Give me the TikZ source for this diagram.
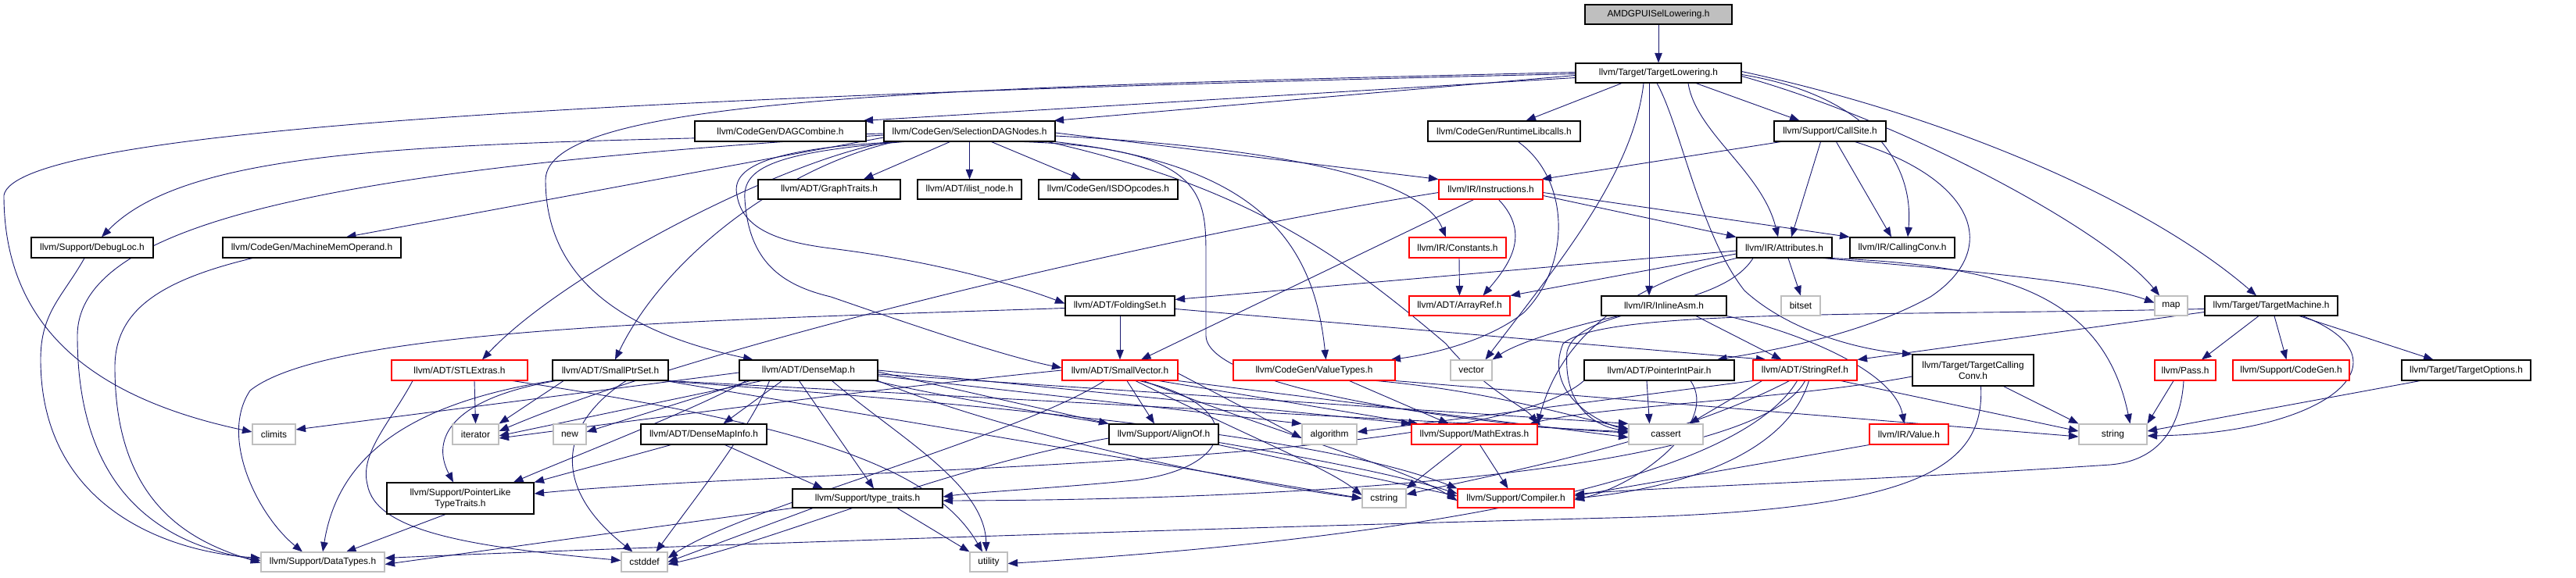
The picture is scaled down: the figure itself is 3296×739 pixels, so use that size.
\documentclass[tikz,border=0pt]{standalone}
\usepackage{fontspec}
\setmainfont{Liberation Sans}
\usetikzlibrary{arrows.meta}
\definecolor{edgec}{HTML}{191970}
\definecolor{grayb}{HTML}{BFBFBF}
\pgfdeclarelayer{bg}
\pgfsetlayers{bg,main}
\begin{document}
\begin{tikzpicture}[x=1pt,y=-1pt,
  box/.style={rectangle,inner sep=0pt,font=\fontsize{11.9}{14}\selectfont,line width=1.1pt,fill=white,align=center,minimum height=26pt},
  nb/.style={box,draw=black},
  ng/.style={box,draw=grayb},
  nr/.style={box,draw=red},
  nroot/.style={box,draw=black,fill=grayb},
  mw/.style={minimum width=#1pt},
  mh/.style={minimum height=#1pt},
  e/.style={draw=edgec,line width=0.9pt,-{Triangle[length=12.5pt,width=9.5pt]}}]
\useasboundingbox (0,0) rectangle (3296,739);
% ---------- nodes ----------
\node[nroot,mw=188,mh=25] (root) at (2122,18.5) {AMDGPUISelLowering.h};
\node[nb,mw=212,mh=25] (tl) at (2122,93.5) {llvm/Target/TargetLowering.h};
\node[nb,mw=219] (dagc) at (998.5,168) {llvm/CodeGen/DAGCombine.h};
\node[nb,mw=219] (sdn) at (1240.5,168) {llvm/CodeGen/SelectionDAGNodes.h};
\node[nb,mw=195] (rtl) at (1924.5,168) {llvm/CodeGen/RuntimeLibcalls.h};
\node[nb,mw=143] (cs) at (2341.5,168) {llvm/Support/CallSite.h};
\node[nb,mw=156] (dbg) at (118,317) {llvm/Support/DebugLoc.h};
\node[nb,mw=228] (mmo) at (399,317) {llvm/CodeGen/MachineMemOperand.h};
\node[nb,mw=182,mh=25] (gt) at (1061,242.5) {llvm/ADT/GraphTraits.h};
\node[nb,mw=133,mh=25] (ilist) at (1240.5,242.5) {llvm/ADT/ilist\_node.h};
\node[nb,mw=178,mh=25] (isd) at (1418,242.5) {llvm/CodeGen/ISDOpcodes.h};
\node[nr,mw=133,mh=25] (inst) at (1907.5,242.5) {llvm/IR/Instructions.h};
\node[nr,mw=124] (const) at (1865,317) {llvm/IR/Constants.h};
\node[nb,mw=122] (attr) at (2283,317) {llvm/IR/Attributes.h};
\node[nb,mw=134] (cc) at (2434,317) {llvm/IR/CallingConv.h};
\node[nr,mw=129,mh=25] (aref) at (1867.5,391.5) {llvm/ADT/ArrayRef.h};
\node[nb,mw=140,mh=25] (fset) at (1433,391.5) {llvm/ADT/FoldingSet.h};
\node[nb,mw=160,mh=25] (iasm) at (2129,391.5) {llvm/IR/InlineAsm.h};
\node[ng,mw=50,mh=25] (bitset) at (2304,391.5) {bitset};
\node[ng,mw=42,mh=25] (map) at (2778,391.5) {map};
\node[nb,mw=170,mh=25] (tm) at (2906,391.5) {llvm/Target/TargetMachine.h};
\node[ng,mw=53] (vector) at (1882.5,474) {vector};
\node[nr,mw=174] (stl) at (588,474) {llvm/ADT/STLExtras.h};
\node[nb,mw=148] (sps) at (781,474) {llvm/ADT/SmallPtrSet.h};
\node[nb,mw=177] (dmap) at (1034.5,474) {llvm/ADT/DenseMap.h};
\node[nr,mw=148] (svec) at (1433,474) {llvm/ADT/SmallVector.h};
\node[nr,mw=207] (vt) at (1681.5,474) {llvm/CodeGen/ValueTypes.h};
\node[nb,mw=192] (pip) at (2123,474) {llvm/ADT/PointerIntPair.h};
\node[nr,mw=133] (sref) at (2309.5,474) {llvm/ADT/StringRef.h};
\node[nb,mw=155,mh=40] (tcc) at (2524.5,474) {llvm/Target/TargetCalling\\Conv.h};
\node[nr,mw=78] (pass) at (2796,474) {llvm/Pass.h};
\node[nr,mw=149] (cg) at (2931.5,474) {llvm/Support/CodeGen.h};
\node[nb,mw=165] (topt) at (3155.5,474) {llvm/Target/TargetOptions.h};
\node[ng,mw=55] (climits) at (350.5,556) {climits};
\node[ng,mw=59] (iter) at (608.5,556) {iterator};
\node[ng,mw=42] (new) at (729,556) {new};
\node[nb,mw=161] (dmi) at (900.5,556) {llvm/ADT/DenseMapInfo.h};
\node[nb,mw=140] (align) at (1489,556) {llvm/Support/AlignOf.h};
\node[ng,mw=70] (algo) at (1701,556) {algorithm};
\node[nr,mw=161] (mext) at (1886.5,556) {llvm/Support/MathExtras.h};
\node[ng,mw=95] (cassert) at (2131.5,556) {cassert};
\node[nr,mw=101] (value) at (2442.5,556) {llvm/IR/Value.h};
\node[ng,mw=87] (string) at (2703.5,556) {string};
\node[nb,mw=188,mh=40] (pltt) at (589,638) {llvm/Support/PointerLike\\TypeTraits.h};
\node[nb,mw=192,mh=24] (tt) at (1110,638) {llvm/Support/type\_traits.h};
\node[ng,mw=56,mh=24] (cstring) at (1771,638) {cstring};
\node[nr,mw=149,mh=24] (comp) at (1939.5,638) {llvm/Support/Compiler.h};
\node[ng,mw=158,mh=25] (dt) at (413,719.5) {llvm/Support/DataTypes.h};
\node[ng,mw=59,mh=25] (cstddef) at (824.5,719.5) {cstddef};
\node[ng,mw=48,mh=25] (utility) at (1265,719.5) {utility};
% ---------- edges ----------
\begin{pgfonlayer}{bg}
\draw[e] (root) -- (tl);
\draw[e] ([yshift=-6]tl.west) -- ([xshift=-4]dagc.north east);
\draw[e] ([yshift=-3]tl.west) -- ([xshift=-2]sdn.north east);
\draw[e] ([yshift=-1]tl.west) .. controls (700,125) and (20,170) .. (5,250) .. controls (5,420) and (120,510) .. ([yshift=3]climits.west);
\draw[e] ([yshift=1]tl.west) .. controls (1200,112) and (700,125) .. (698,230) .. controls (698,370) and (820,430) .. ([xshift=-71]dmap.north);
\draw[e] ([xshift=-47]tl.south) -- ([xshift=28]rtl.north);
\draw[e] ([xshift=48]tl.south) -- ([xshift=-39]cs.north);
\draw[e] ([xshift=38]tl.south) .. controls (2170,170) and (2255,220) .. ([xshift=-8]attr.north);
\draw[e] ([yshift=-2]tl.east) .. controls (2380,120) and (2450,200) .. ([xshift=7]cc.north);
\draw[e] ([xshift=-12]tl.south) -- ([xshift=-19]iasm.north);
\draw[e] ([xshift=-19]tl.south) .. controls (2090,220) and (2000,330) .. ([xshift=18]vector.north);
\draw[e] ([yshift=2]tl.east) .. controls (2500,150) and (2750,260) .. ([xshift=-19]tm.north);
\draw[e] ([yshift=-4]tl.east) .. controls (2450,160) and (2700,300) .. ([xshift=-15]map.north);
\draw[e] ([xshift=-2]tl.south) .. controls (2150,160) and (2175,300) .. (2232,372) .. controls (2290,425) and (2380,448) .. (tcc.north west);
% SelectionDAGNodes
\draw[e] ([yshift=-3]sdn.west) .. controls (600,185) and (250,180) .. ([xshift=12]dbg.north);
\draw[e] ([yshift=-8]sdn.west) -- ([xshift=44]mmo.north);
\draw[e] ([yshift=-5]sdn.west) .. controls (450,215) and (99,280) .. (99,430) .. controls (99,650) and (230,700) .. ([yshift=2]dt.west);
\draw[e] ([xshift=8]sdn.south west) .. controls (1000,205) and (720,350) .. ([xshift=29]stl.north);
\draw[e] ([xshift=14]sdn.south west) .. controls (1000,215) and (850,330) .. ([xshift=6]sps.north);
\draw[e] ([xshift=20]sdn.south west) .. controls (980,190) and (935,215) .. (943,250) .. controls (950,295) and (1000,310) .. (1063,318) .. controls (1200,335) and (1300,365) .. ([yshift=3]fset.west);
\draw[e] ([xshift=26]sdn.south west) .. controls (990,195) and (950,215) .. (953,255) .. controls (958,335) and (1000,365) .. (1063,380) .. controls (1150,410) and (1280,455) .. ([yshift=3]svec.west);
\draw[e] ([xshift=-25]sdn.south) -- ([xshift=44]gt.north);
\draw[e] (sdn.south) -- (ilist.north);
\draw[e] ([xshift=28]sdn.south) -- ([xshift=-35]isd.north);
\draw[e] ([yshift=-2]sdn.east) -- (inst.north west);
\draw[e] ([yshift=-6]sdn.east) .. controls (1650,190) and (1820,230) .. ([xshift=-15]const.north);
\draw[e] (sdn.south east) .. controls (1600,210) and (1680,300) .. ([xshift=15]vt.north);
\draw[e] ([xshift=-10]sdn.south east) .. controls (1600,240) and (1720,330) .. (1850,440) .. controls (1900,500) and (1950,520) .. (mext.north east);
\draw[e] ([xshift=-40]sdn.south east) .. controls (1543,190) and (1543,250) .. (1543,330) -- (1543,430) .. controls (1545,500) and (1900,545) .. ([yshift=2]cassert.west);
% RuntimeLibcalls
\draw[e] ([xshift=18]rtl.south) .. controls (2010,230) and (2010,340) .. (1950,400) .. controls (1900,440) and (1820,455) .. ([xshift=98]vt.north);
% CallSite
\draw[e] ([xshift=-63]cs.south) -- ([xshift=65]inst.north);
\draw[e] ([xshift=-12]cs.south) -- ([xshift=9]attr.north);
\draw[e] ([xshift=8]cs.south) -- ([xshift=-14]cc.north);
\draw[e] ([xshift=32]cs.south) .. controls (2530,230) and (2560,320) .. (2470,380) .. controls (2380,430) and (2260,450) .. ([xshift=74]pip.north);
% DebugLoc, MMO
\draw[e] ([xshift=-10]dbg.south) .. controls (80,380) and (52,400) .. (52,460) .. controls (52,640) and (200,705) .. ([yshift=5]dt.west);
\draw[e] ([xshift=-76]mmo.south) .. controls (200,360) and (147,400) .. (147,470) .. controls (147,650) and (250,695) .. ([yshift=-1]dt.west);
% Instructions
\draw[e] ([yshift=-8]inst.east) -- (attr.north west);
\draw[e] ([yshift=-4]inst.east) -- (cc.north west);
\draw[e] ([xshift=10]inst.south) .. controls (1960,300) and (1930,340) .. ([xshift=30]aref.north);
\draw[e] ([xshift=-22]inst.south) -- ([xshift=27]svec.north);
\draw[e] ([yshift=-4]inst.west) .. controls (1500,300) and (900,440) .. ([yshift=4]iter.east);
% Constants
\draw[e] ([xshift=2]const.south) -- (aref.north);
% Attributes
\draw[e] ([yshift=-8]attr.west) -- (aref.north east);
\draw[e] ([yshift=-4]attr.west) -- ([yshift=8]fset.east);
\draw[e] (attr.south west) .. controls (2100,360) and (2000,420) .. (mext.north east);
\draw[e] ([xshift=5]attr.south) -- (bitset.north);
\draw[e] ([xshift=50]attr.south) .. controls (2500,345) and (2680,360) .. ([yshift=4]map.west);
\draw[e] (attr.south east) .. controls (2550,340) and (2690,370) .. ([xshift=22]string.north);
\draw[e] ([xshift=-40]attr.south) .. controls (2200,400) and (2020,390) .. (2005,450) .. controls (2000,520) and (2040,545) .. ([yshift=4]cassert.west);
% FoldingSet
\draw[e] (fset.south) -- (svec.north);
\draw[e] ([yshift=-4]fset.east) -- ([xshift=-50]sref.north);
\draw[e] ([yshift=-3]fset.west) .. controls (900,410) and (420,420) .. (320,500) .. controls (280,560) and (330,660) .. ([xshift=-26]dt.north);
% InlineAsm
\draw[e] ([xshift=-58]iasm.south) .. controls (2000,420) and (1940,440) .. (vector.north east);
\draw[e] ([xshift=41]iasm.south) -- ([xshift=-30]sref.north);
\draw[e] (iasm.south east) .. controls (2320,430) and (2425,480) .. ([xshift=-6]value.north);
% TargetMachine
\draw[e] ([xshift=-16]tm.south) -- ([xshift=21]pass.north);
\draw[e] ([xshift=4]tm.south) -- ([xshift=-6]cg.north);
\draw[e] ([xshift=36]tm.south) -- ([xshift=-42]topt.north);
\draw[e] ([yshift=-8]tm.west) -- (sref.north east);
\draw[e] ([yshift=-4]tm.west) .. controls (2400,405) and (2050,395) .. (2000,440) .. controls (1975,500) and (2040,540) .. ([yshift=6]cassert.west);
\draw[e] ([xshift=40]tm.south) .. controls (3090,460) and (2980,555) .. ([yshift=-2]string.east);
% TargetCallingConv
\draw[e] ([xshift=39]tcc.south) -- (string.north west);
\draw[e] ([xshift=10]tcc.south) .. controls (2540,600) and (2450,650) .. (2100,662) .. controls (1400,680) and (700,705) .. ([yshift=5]dt.east);
\draw[e] ([yshift=-8]tcc.west) .. controls (2300,510) and (2050,520) .. ([xshift=-10]mext.north east);
% Pass, TargetOptions
\draw[e] ([xshift=-15]pass.south) -- (string.north east);
\draw[e] ([xshift=-2]pass.south) .. controls (2790,550) and (2760,590) .. (2700,595) .. controls (2400,615) and (2100,625) .. ([yshift=5]comp.east);
\draw[e] ([xshift=24]topt.south west) -- ([yshift=4]string.east);
% STLExtras
\draw[e] ([xshift=19]stl.south) -- (iter.north);
\draw[e] ([xshift=68]stl.south) .. controls (1000,540) and (1190,590) .. ([xshift=-8]utility.north);
\draw[e] ([xshift=-60]stl.south) .. controls (500,540) and (460,580) .. (470,620) .. controls (480,680) and (600,700) .. ([yshift=2]cstddef.west);
% SmallPtrSet
\draw[e] ([xshift=-60]sps.south) -- (iter.north east);
\draw[e] ([xshift=-70]sps.south) .. controls (580,510) and (550,560) .. ([xshift=-9]pltt.north);
\draw[e] (sps.south west) .. controls (500,520) and (430,600) .. (dt.north);
\draw[e] (sps.south east) -- ([yshift=3]cassert.west);
\draw[e] ([xshift=-4]sps.south east) -- (cstring.west);
\draw[e] ([xshift=-8]sps.south east) .. controls (1300,520) and (1700,560) .. (comp.north west);
\draw[e] ([xshift=20]sps.south) .. controls (720,540) and (700,620) .. ([xshift=-15]cstddef.north);
% DenseMap
\draw[e] ([yshift=-3]dmap.west) -- ([yshift=6]climits.east);
\draw[e] ([xshift=-60]dmap.south) -- ([yshift=-2]iter.east);
\draw[e] ([xshift=-75]dmap.south) -- ([yshift=3]new.east);
\draw[e] ([xshift=-34]dmap.south) -- ([xshift=25]dmi.north);
\draw[e] ([xshift=-80]dmap.south) .. controls (900,520) and (720,590) .. ([xshift=68]pltt.north);
\draw[e] ([xshift=-12]dmap.south) -- ([xshift=8]tt.north);
\draw[e] ([yshift=-2]dmap.east) -- (align.north west);
\draw[e] (dmap.east) -- (mext.north west);
\draw[e] ([yshift=-7]dmap.east) -- (algo.north west);
\draw[e] ([yshift=-5]dmap.east) -- (cassert.north west);
\draw[e] (dmap.south east) .. controls (1300,560) and (1600,620) .. (cstring.west);
\draw[e] ([xshift=-4]dmap.south east) .. controls (1300,530) and (1700,580) .. ([yshift=6]comp.west);
\draw[e] ([xshift=30]dmap.south) .. controls (1150,560) and (1260,620) .. ([xshift=-3]utility.north);
\draw[e] ([xshift=-50]dmap.south) .. controls (960,550) and (880,650) .. ([xshift=15]cstddef.north);
% DenseMapInfo
\draw[e] ([xshift=-42]dmi.south) -- (pltt.north east);
\draw[e] ([xshift=27]dmi.south) -- ([xshift=-57]tt.north);
% SmallVector
\draw[e] (svec.west) .. controls (1100,500) and (800,540) .. ([yshift=-5]iter.east);
\draw[e] ([xshift=9]svec.south) -- ([xshift=-12]align.north);
\draw[e] ([xshift=25]svec.south) .. controls (1600,520) and (1580,600) .. (1450,615) .. controls (1350,625) and (1250,630) .. ([yshift=2]tt.east);
\draw[e] ([yshift=-4]svec.east) -- ([yshift=-5]algo.west);
\draw[e] ([xshift=50]svec.south) -- ([xshift=-72]mext.north);
\draw[e] (svec.south east) -- ([yshift=-4]cassert.west);
\draw[e] ([xshift=30]svec.south) .. controls (1650,560) and (1800,600) .. ([yshift=-3]comp.west);
\draw[e] ([xshift=20]svec.south) .. controls (1600,560) and (1700,600) .. ([yshift=4]cstring.west);
\draw[e] ([xshift=-20]svec.south) .. controls (1300,560) and (950,650) .. ([yshift=5]cstddef.east);
% ValueTypes
\draw[e] ([xshift=45]vt.south) -- ([xshift=-33]mext.north);
\draw[e] ([xshift=80]vt.south) .. controls (1900,500) and (2000,530) .. ([yshift=7]cassert.west);
\draw[e] (vt.south east) -- ([yshift=-3]string.west);
% PointerIntPair
\draw[e] ([xshift=-16]pip.south) -- ([xshift=-21]cassert.north);
\draw[e] (pip.south west) .. controls (1900,600) and (1000,600) .. ([yshift=6]pltt.east);
\draw[e] ([xshift=40]pip.south) .. controls (2200,540) and (2100,620) .. ([yshift=-2]comp.east);
% StringRef
\draw[e] (sref.south west) -- ([yshift=3]algo.east);
\draw[e] ([xshift=-55]sref.south) -- ([xshift=30]cassert.north);
\draw[e] ([xshift=-20]sref.south) .. controls (2150,560) and (1950,600) .. ([yshift=5]cstring.east);
\draw[e] ([xshift=46]sref.south) -- ([yshift=4]string.west);
\draw[e] ([xshift=-10]sref.south) .. controls (2220,620) and (1800,690) .. ([yshift=-2]utility.east);
\draw[e] (sref.south) .. controls (2250,600) and (1700,640) .. ([yshift=-3]tt.east);
\draw[e] ([xshift=5]sref.south) .. controls (2280,600) and (2100,630) .. (comp.east);
% Value, AlignOf, MathExtras
\draw[e] (value.south west) -- ([yshift=3]comp.east);
\draw[e] (align.south east) -- ([yshift=3]comp.west);
\draw[e] ([yshift=-5]align.west) .. controls (1200,600) and (1000,690) .. ([yshift=-3]cstddef.east);
\draw[e] ([xshift=-16]mext.south) -- (cstring.north east);
\draw[e] ([xshift=7]mext.south) -- ([xshift=-10]comp.north);
% type_traits, PointerLikeTypeTraits
\draw[e] (tt.south west) -- ([yshift=-3]dt.east);
\draw[e] ([xshift=-70]tt.south) -- ([yshift=0]cstddef.east);
\draw[e] ([xshift=38]tt.south) -- (utility.north west);
\draw[e] ([xshift=-19]pltt.south) -- ([xshift=30]dt.north);
\end{pgfonlayer}
\end{tikzpicture}
\end{document}
